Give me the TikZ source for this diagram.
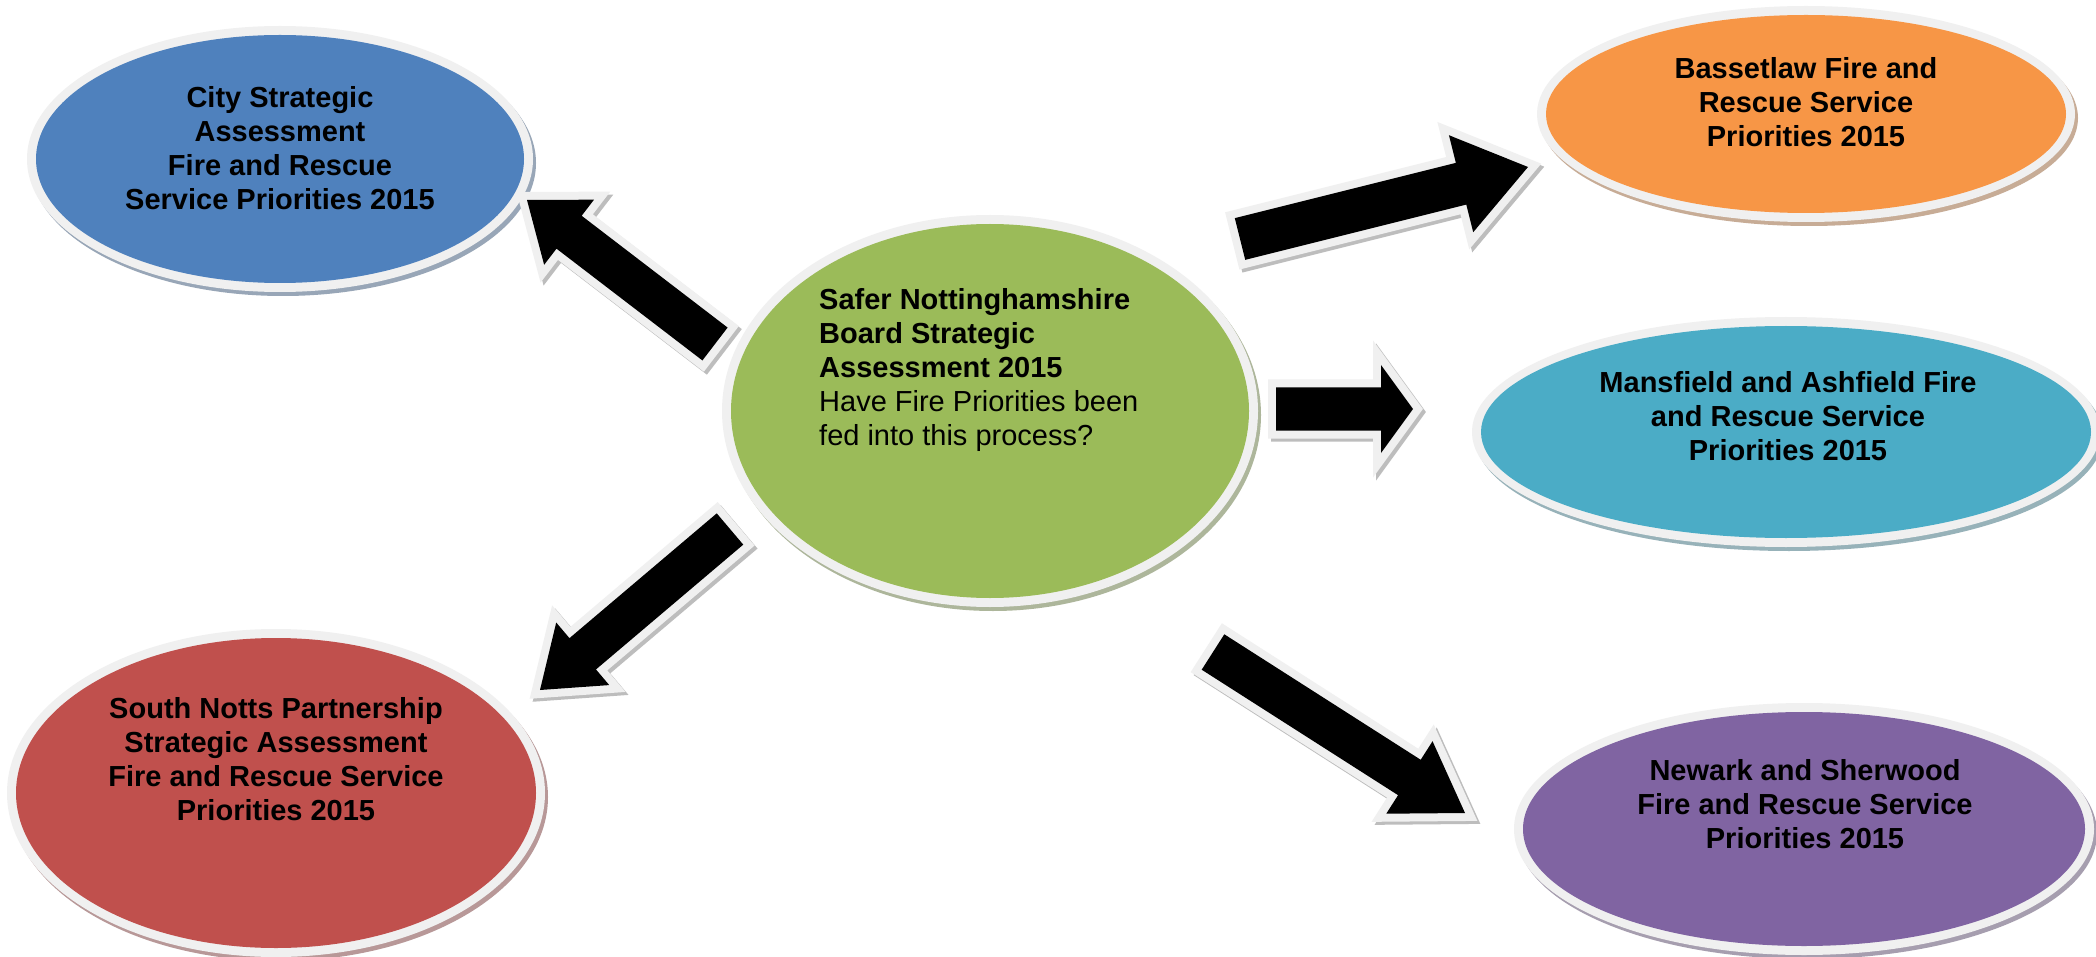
\documentclass[tikz,border=0pt]{standalone}
\usepackage{fontspec}
\setmainfont{Liberation Sans}
\usetikzlibrary{calc}

\definecolor{cityblue}{HTML}{4F81BD}
\definecolor{boardgreen}{HTML}{9BBB59}
\definecolor{bassetorange}{HTML}{F79646}
\definecolor{mansfieldteal}{HTML}{4BACC6}
\definecolor{newarkpurple}{HTML}{8064A2}
\definecolor{southred}{HTML}{C0504D}
\definecolor{rimgray}{HTML}{F0F0F0}
\definecolor{shadowgray}{HTML}{BDBDBD}

\tikzset{
  bubbletext/.style={font=\bfseries\fontsize{29}{34}\selectfont, align=center, inner sep=0pt, text=black},
  arrowshadow/.style={draw=shadowgray, fill=shadowgray, line width=16pt, line join=miter,
                      transform canvas={xshift=3pt, yshift=-3pt}},
  arrowrim/.style={draw=rimgray, fill=rimgray, line width=16pt, line join=miter},
  arrowbody/.style={fill=black},
}

% bevelled ellipse: tinted drop shadow, light rim, coloured face
\newcommand\bubble[4]{% centre, x radius, y radius, colour
  \fill[#4!40!gray!70] ($(#1)+(3,4)$) ellipse [x radius={#2pt+9pt}, y radius={#3pt+9pt}];
  \fill[rimgray] (#1) ellipse [x radius={#2pt+9pt}, y radius={#3pt+9pt}];
  \fill[#4] (#1) ellipse [x radius=#2pt, y radius=#3pt];
}

% outline of a block arrow from tail to tip
\newcommand\arrowoutline[6]{% tail, tip, half shaft, half head, head length, style
  \coordinate (hb) at ($(#2)!#5!(#1)$);
  \path[#6] ($(#1)!#3!90:(#2)$) -- ($(hb)!#3!90:(#2)$) -- ($(hb)!#4!90:(#2)$) -- (#2)
    -- ($(hb)!#4!-90:(#2)$) -- ($(hb)!#3!-90:(#2)$) -- ($(#1)!#3!-90:(#2)$) -- cycle;
}
\newcommand\blockarrow[5]{%
  \arrowoutline{#1}{#2}{#3}{#4}{#5}{arrowshadow}
  \arrowoutline{#1}{#2}{#3}{#4}{#5}{arrowrim}
  \arrowoutline{#1}{#2}{#3}{#4}{#5}{arrowbody}
}

\begin{document}
\begin{tikzpicture}[x=1pt, y=-1pt]
  \fill[white] (0,0) rectangle (2096,957);
  \useasboundingbox (0,0) rectangle (2096,957);

  % ellipse centres
  \coordinate (cityc)  at (280,159);
  \coordinate (boardc) at (990,411);
  \coordinate (bassc)  at (1806,114);
  \coordinate (mansc)  at (1786,432);
  \coordinate (newc)   at (1804,829);
  \coordinate (southc) at (276,793);

  \bubble{cityc}{244}{124}{cityblue}
  \bubble{boardc}{259}{187}{boardgreen}
  \bubble{bassc}{260}{99}{bassetorange}
  \bubble{mansc}{305}{106}{mansfieldteal}
  \bubble{newc}{281}{117}{newarkpurple}
  \bubble{southc}{260}{155}{southred}

  % texts
  \node[bubbletext] (citytext) at (280,148)
    {City Strategic\\Assessment\\Fire and Rescue\\Service Priorities 2015};
  \node[bubbletext, align=left, anchor=west] (boardtext) at (819,370)
    {Safer Nottinghamshire\\Board Strategic\\Assessment 2015\\
     \mdseries Have Fire Priorities been\\\mdseries fed into this process?};
  \node[bubbletext] (basstext) at (1806,102)
    {Bassetlaw Fire and\\Rescue Service\\Priorities 2015};
  \node[bubbletext] (manstext) at (1788,416)
    {Mansfield and Ashfield Fire\\and Rescue Service\\Priorities 2015};
  \node[bubbletext] (newtext) at (1805,804)
    {Newark and Sherwood\\Fire and Rescue Service\\Priorities 2015};
  \node[bubbletext] (southtext) at (276,759)
    {South Notts Partnership\\Strategic Assessment\\Fire and Rescue Service\\Priorities 2015};

  % arrow ends
  \coordinate (nwtail) at (715,344);   \coordinate (nwtip) at (527,200);
  \coordinate (netail) at (1240,239);  \coordinate (netip) at (1528,167);
  \coordinate (etail)  at (1276,409);  \coordinate (etip)  at (1413,409);
  \coordinate (swtail) at (730,529);   \coordinate (swtip) at (540,690);
  \coordinate (setail) at (1213,652);  \coordinate (setip) at (1465,813);

  \blockarrow{nwtail}{nwtip}{20.7pt}{41pt}{53pt}
  \blockarrow{netail}{netip}{21.5pt}{50pt}{69pt}
  \blockarrow{etail}{etip}{21.5pt}{44pt}{32pt}
  \blockarrow{swtail}{swtip}{20.5pt}{41pt}{56pt}
  \blockarrow{setail}{setip}{21pt}{43pt}{66pt}
\end{tikzpicture}
\end{document}
